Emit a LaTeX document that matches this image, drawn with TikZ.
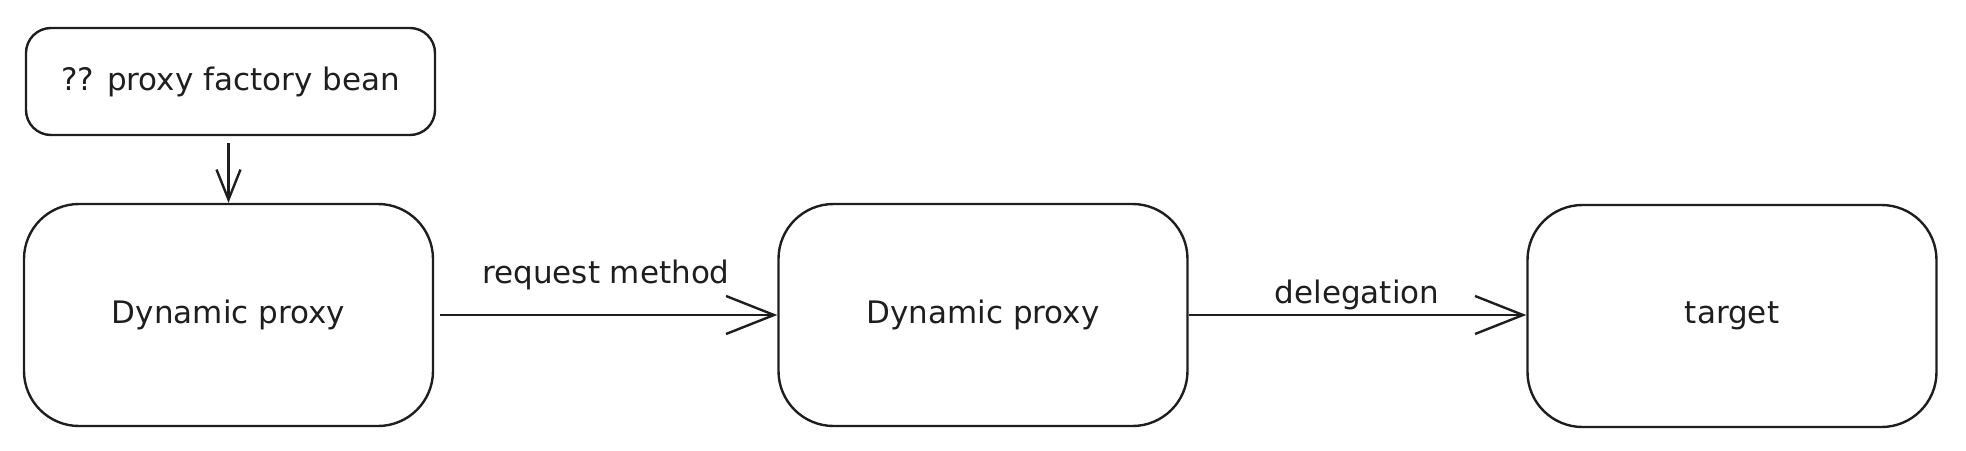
\documentclass[tikz,border=0pt]{standalone}
\usepackage{fontspec}
\setmainfont{DejaVu Sans}
\usetikzlibrary{arrows.meta}
\definecolor{ink}{HTML}{1E1E1E}
\begin{document}
\begin{tikzpicture}[x=1pt,y=-1pt,
  every node/.style={text=ink, font=\fontsize{31}{36}\selectfont},
  bigbox/.style={draw=ink, line width=2.4pt, rounded corners=55pt, minimum width=409pt, minimum height=222pt, inner sep=0pt},
  smallbox/.style={draw=ink, line width=2.4pt, rounded corners=25pt, minimum width=409pt, minimum height=107pt, inner sep=0pt},
  conn/.style={draw=ink, line width=2.4pt, -{Straight Barb[length=48pt,width=38pt,line width=2.4pt]}},
  smallconn/.style={draw=ink, line width=2.4pt, -{Straight Barb[length=30pt,width=24pt,line width=2.4pt]}},
  lbl/.style={anchor=base, inner sep=0pt}
]
\useasboundingbox (0,0) rectangle (1966,450);
\node[smallbox] (fac) at (230.5,81.5) {?? proxy factory bean};
\node[bigbox] (p1) at (228.5,315) {Dynamic proxy};
\node[bigbox] (p2) at (983,315) {Dynamic proxy};
\node[bigbox] (tg) at (1732,316) {target};
\draw[smallconn, shorten <=7pt] (fac.south -| p1.north) -- (p1.north);
\draw[conn, shorten <=6pt] (p1.east) -- (p2.west);
\draw[conn] (p2.east) -- (p2.east -| tg.west);
\node[lbl] (l1) at (606,283) {request method};
\node[lbl] (l2) at (1357,303) {delegation};
\end{tikzpicture}
\end{document}
